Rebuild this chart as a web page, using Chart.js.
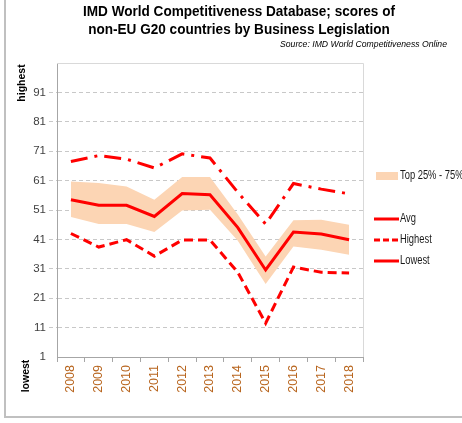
<!DOCTYPE html>
<html>
<head>
<meta charset="utf-8">
<script src="https://cdn.jsdelivr.net/npm/chart.js@4.4.1/dist/chart.umd.min.js"></script>
<style>
html,body{margin:0;padding:0;background:#fff;}
#wrap{width:462px;height:423px;position:relative;}
</style>
</head>
<body>
<div id="wrap"><canvas id="c" width="462" height="423"></canvas></div>
<script>
const years = ['2008','2009','2010','2011','2012','2013','2014','2015','2016','2017','2018'];
const highest = [67.5, 69.5, 68.3, 65.3, 70.1, 68.7, 57.0, 46.2, 60.0, 58.1, 56.5];
const avg     = [54.5, 52.6, 52.6, 48.8, 56.6, 56.2, 45.0, 30.6, 43.5, 42.8, 40.9];
const lowest  = [43.0, 38.4, 40.9, 35.3, 40.8, 40.8, 29.8, 12.5, 31.6, 29.8, 29.6];
const q75     = [60.7, 60.2, 59.0, 54.5, 62.2, 62.2, 49.5, 35.2, 47.5, 47.7, 46.0];
const q25     = [48.6, 46.2, 46.2, 43.5, 50.8, 51.1, 40.5, 25.8, 38.6, 37.5, 35.8];
const yTicks  = [1, 11, 21, 31, 41, 51, 61, 71, 81, 91];
const titleLines = ['IMD World Competitiveness Database; scores of', 'non-EU G20 countries by Business Legislation'];
const sourceText = 'Source: IMD World Competitiveness Online';
const legendItems = [
  {text: 'Top 25% - 75%', type: 'band'},
  {text: '', type: 'none'},
  {text: 'Avg', type: 'solid'},
  {text: 'Highest', type: 'dash'},
  {text: 'Lowest', type: 'solid'}
];

const RED = '#ff0000';
const BAND = '#fcd5b4';
const FONT = '"Liberation Sans", Arial, sans-serif';

function scaledText(ctx, text, x, y, sx) {
  ctx.save();
  ctx.translate(x, y);
  ctx.scale(sx, 1);
  ctx.fillText(text, 0, 0);
  ctx.restore();
}

const decor = {
  id: 'decor',
  beforeDraw(chart) {
    const ctx = chart.ctx;
    ctx.save();
    ctx.fillStyle = '#fff';
    ctx.fillRect(0, 0, chart.width, chart.height);
    ctx.restore();
  },
  afterDraw(chart) {
    const ctx = chart.ctx;
    const ca = chart.chartArea;
    ctx.save();
    // outer frame
    ctx.strokeStyle = '#c0c0c0';
    ctx.lineWidth = 2;
    ctx.beginPath();
    ctx.moveTo(5, -2);
    ctx.lineTo(5, 417);
    ctx.lineTo(470, 417);
    ctx.stroke();
    // plot border top/right
    ctx.strokeStyle = '#d9d9d9';
    ctx.lineWidth = 1;
    ctx.beginPath();
    ctx.moveTo(ca.left, ca.top + 0.5);
    ctx.lineTo(ca.right + 0.5, ca.top + 0.5);
    ctx.lineTo(ca.right + 0.5, ca.bottom);
    ctx.stroke();
    // title (condensed to match reference width)
    ctx.fillStyle = '#000';
    ctx.textAlign = 'center';
    ctx.textBaseline = 'alphabetic';
    ctx.font = 'bold 15.5px ' + FONT;
    const w0 = ctx.measureText(titleLines[0]).width;
    const sx = 312 / w0;
    scaledText(ctx, titleLines[0], 239, 16, sx);
    scaledText(ctx, titleLines[1], 239, 34, sx);
    // source
    ctx.font = 'italic 9px ' + FONT;
    ctx.textAlign = 'right';
    const ws = ctx.measureText(sourceText).width;
    scaledText(ctx, sourceText, 447, 47, 167 / ws);
    // side labels
    ctx.font = 'bold 10.5px ' + FONT;
    ctx.textAlign = 'center';
    ctx.textBaseline = 'middle';
    ctx.save();
    ctx.translate(22, 83);
    ctx.rotate(-Math.PI / 2);
    ctx.fillText('highest', 0, 0);
    ctx.restore();
    ctx.save();
    ctx.translate(26, 376);
    ctx.rotate(-Math.PI / 2);
    ctx.fillText('lowest', 0, 0);
    ctx.restore();
    // legend
    const ys = [176, 197.5, 219, 240, 261];
    ctx.font = '12px ' + FONT;
    ctx.textAlign = 'left';
    ctx.textBaseline = 'middle';
    legendItems.forEach((it, i) => {
      const y = ys[i];
      if (it.type === 'band') {
        ctx.fillStyle = BAND;
        ctx.fillRect(376, y - 4, 22, 8);
      } else if (it.type === 'solid' || it.type === 'dash') {
        ctx.strokeStyle = RED;
        ctx.lineWidth = 3;
        ctx.setLineDash(it.type === 'dash' ? [6, 3] : []);
        ctx.beginPath();
        ctx.moveTo(374, y);
        ctx.lineTo(399, y);
        ctx.stroke();
        ctx.setLineDash([]);
      }
      if (it.text) {
        ctx.fillStyle = '#1a1a1a';
        scaledText(ctx, it.text, 400, y, 0.78);
      }
    });
    ctx.restore();
  }
};

const lineDs = (label, data, dash) => ({
  label, data,
  borderColor: RED,
  borderWidth: 3,
  borderDash: dash,
  borderCapStyle: 'butt',
  pointRadius: 0,
  pointHoverRadius: 0,
  fill: false,
  tension: 0,
  order: 0
});

new Chart(document.getElementById('c'), {
  type: 'line',
  data: {
    labels: years,
    datasets: [
      {label: 'Top 75%', data: q75, borderWidth: 0, borderColor: 'rgba(0,0,0,0)', backgroundColor: BAND, pointRadius: 0, fill: '+1', tension: 0, order: 10},
      {label: 'Top 25%', data: q25, borderWidth: 0, borderColor: 'rgba(0,0,0,0)', backgroundColor: BAND, pointRadius: 0, fill: false, tension: 0, order: 10},
      lineDs('Highest', highest, [17, 7, 3, 7]),
      lineDs('Avg', avg, []),
      lineDs('Lowest', lowest, [9, 5])
    ]
  },
  options: {
    responsive: false,
    animation: false,
    events: [],
    layout: {padding: {top: 63, right: 99, left: 0, bottom: 0}},
    plugins: {legend: {display: false}, tooltip: {enabled: false}, title: {display: false}},
    scales: {
      x: {
        offset: true,
        grid: {offset: true, drawOnChartArea: false, color: '#a6a6a6', tickLength: 5},
        border: {color: '#a6a6a6', width: 1},
        ticks: {minRotation: 90, maxRotation: 90, padding: 3, color: '#b8651e', font: {family: FONT, size: 12.5}},
        afterFit(s) { s.height = 66; }
      },
      y: {
        min: 1, max: 101,
        afterBuildTicks(s) { s.ticks = yTicks.concat([101]).map(v => ({value: v})); },
        grid: {
          color: c => (c.tick && c.tick.value === 101) ? 'rgba(0,0,0,0)' : '#c8c8c8',
          tickLength: 8,
          tickBorderDash: [4, 3],
          tickColor: c => (c.tick && (c.tick.value === 1 || c.tick.value === 101)) ? 'rgba(0,0,0,0)' : '#c8c8c8'
        },
        border: {color: '#a6a6a6', width: 1, dash: [4, 3]},
        ticks: {
          padding: 3,
          color: '#3f3f3f',
          font: {family: FONT, size: 11.5},
          callback: v => (v === 101 ? '' : String(v))
        },
        afterFit(s) { s.width = 57; }
      }
    }
  },
  plugins: [decor]
});
</script>
</body>
</html>
